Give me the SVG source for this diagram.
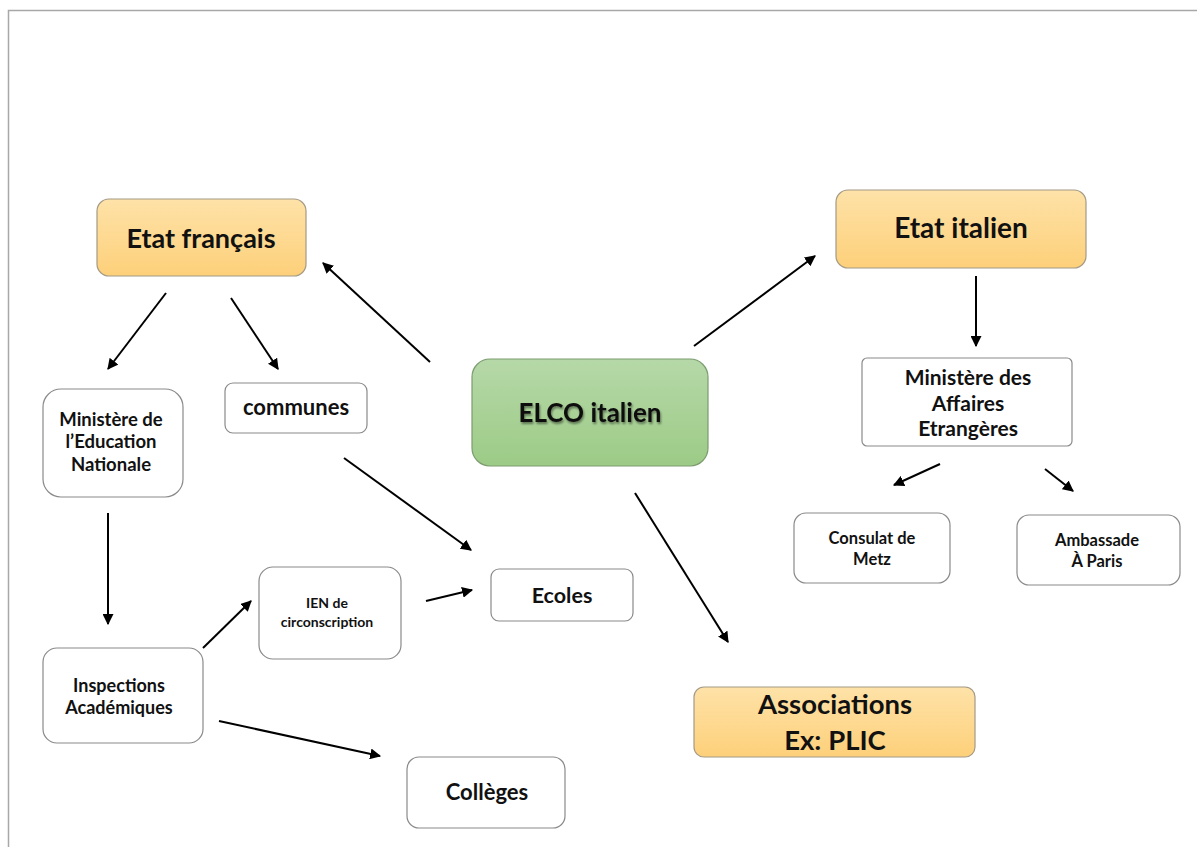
<svg xmlns="http://www.w3.org/2000/svg" width="1197" height="847" viewBox="0 0 1197 847">
  <defs>
    <linearGradient id="gOrange" x1="0" y1="0" x2="0" y2="1">
      <stop offset="0" stop-color="#fee2a8"/>
      <stop offset="1" stop-color="#fdd07a"/>
    </linearGradient>
    <linearGradient id="gGreen" x1="0" y1="0" x2="0" y2="1">
      <stop offset="0" stop-color="#b6d8a8"/>
      <stop offset="1" stop-color="#9ccb86"/>
    </linearGradient>
    <filter id="txtShadow" x="-10%" y="-30%" width="120%" height="160%">
      <feGaussianBlur in="SourceAlpha" stdDeviation="1.2"/>
      <feOffset dx="1" dy="1.5" result="b"/>
      <feComponentTransfer><feFuncA type="linear" slope="0.45"/></feComponentTransfer>
      <feMerge><feMergeNode/><feMergeNode in="SourceGraphic"/></feMerge>
    </filter>
    <marker id="arrow" viewBox="0 0 10 10" refX="9" refY="5" markerWidth="5.5" markerHeight="5.5" orient="auto" markerUnits="strokeWidth">
      <path d="M0,0 L10,5 L0,10 z" fill="#000"/>
    </marker>
  </defs>
  <style>
    .frame { stroke: #a8a8a8; stroke-width: 1.5; fill: none; }
    .box { fill: #fff; stroke: #8a8a8a; stroke-width: 1.2; }
    .org { fill: url(#gOrange); stroke: #a49a86; stroke-width: 1.2; }
    .grn { fill: url(#gGreen); stroke: #7c9b6f; stroke-width: 1.2; }
    text { font-family: Lato, "Open Sans", "Liberation Sans", sans-serif; font-weight: 700; fill: #111; text-anchor: middle; }
    .conn line { stroke: #000; stroke-width: 2; marker-end: url(#arrow); }
  </style>

  <rect width="1197" height="847" fill="#fff"/>
  <path class="frame" d="M8.5,847 V10.5 H1197"/>

  <g id="etat-francais">
    <rect class="org" x="97" y="199" width="209" height="77" rx="12"/>
    <text x="201" y="247.5" font-size="27">Etat français</text>
  </g>

  <g id="etat-italien">
    <rect class="org" x="836" y="190" width="250" height="78" rx="12"/>
    <text x="961" y="238" font-size="28">Etat italien</text>
  </g>

  <g id="elco-italien">
    <rect class="grn" x="472" y="359" width="236" height="107" rx="18"/>
    <text x="590" y="422" font-size="26" filter="url(#txtShadow)">ELCO italien</text>
  </g>

  <g id="ministere-affaires-etrangeres">
    <rect class="box" x="862" y="358" width="210" height="88" rx="5"/>
    <text font-size="21"><tspan x="968" y="384.5">Ministère des</tspan><tspan x="968" y="410.5">Affaires</tspan><tspan x="968" y="435.5">Etrangères</tspan></text>
  </g>

  <g id="consulat-metz">
    <rect class="box" x="794" y="513" width="156" height="70" rx="12"/>
    <text font-size="16.5"><tspan x="872" y="544">Consulat de</tspan><tspan x="872" y="565">Metz</tspan></text>
  </g>

  <g id="ambassade-paris">
    <rect class="box" x="1017" y="515" width="163" height="70" rx="12"/>
    <text font-size="16.5"><tspan x="1097" y="546">Ambassade</tspan><tspan x="1097" y="567">À Paris</tspan></text>
  </g>

  <g id="ministere-education">
    <rect class="box" x="43" y="389" width="140" height="108" rx="18"/>
    <text font-size="18.5"><tspan x="111" y="425.5">Ministère de</tspan><tspan x="111" y="447.5">l’Education</tspan><tspan x="111" y="470.5">Nationale</tspan></text>
  </g>

  <g id="communes">
    <rect class="box" x="225" y="383" width="142" height="50" rx="8"/>
    <text x="296" y="415" font-size="22">communes</text>
  </g>

  <g id="ecoles">
    <rect class="box" x="491" y="569" width="142" height="52" rx="8"/>
    <text x="562" y="603" font-size="21.5">Ecoles</text>
  </g>

  <g id="ien-circonscription">
    <rect class="box" x="259" y="567" width="142" height="92" rx="14"/>
    <text font-size="14"><tspan x="327" y="608">IEN de</tspan><tspan x="327" y="627">circonscription</tspan></text>
  </g>

  <g id="inspections-academiques">
    <rect class="box" x="43" y="648" width="160" height="95" rx="14"/>
    <text font-size="18"><tspan x="119" y="691.5">Inspections</tspan><tspan x="119" y="713.5">Académiques</tspan></text>
  </g>

  <g id="colleges">
    <rect class="box" x="407" y="757" width="158" height="71" rx="12"/>
    <text x="487" y="800" font-size="22">Collèges</text>
  </g>

  <g id="associations">
    <rect class="org" x="694" y="687" width="281" height="70" rx="10"/>
    <text font-size="27.5"><tspan x="835" y="714">Associations</tspan><tspan x="835" y="750">Ex: PLIC</tspan></text>
  </g>

  <g id="connectors" class="conn">
    <line x1="430" y1="362" x2="323" y2="263"/>
    <line x1="694" y1="346" x2="815" y2="256"/>
    <line x1="166" y1="293" x2="108" y2="369"/>
    <line x1="231" y1="298" x2="278" y2="369"/>
    <line x1="976" y1="276" x2="976" y2="346"/>
    <line x1="940" y1="464" x2="894" y2="485"/>
    <line x1="1045" y1="469" x2="1073" y2="491"/>
    <line x1="344" y1="458" x2="471" y2="550"/>
    <line x1="108" y1="513" x2="108" y2="624"/>
    <line x1="203" y1="648" x2="251" y2="601"/>
    <line x1="426" y1="601" x2="472" y2="590"/>
    <line x1="219" y1="721" x2="380" y2="756"/>
    <line x1="635" y1="493" x2="728" y2="642"/>
  </g>
</svg>
